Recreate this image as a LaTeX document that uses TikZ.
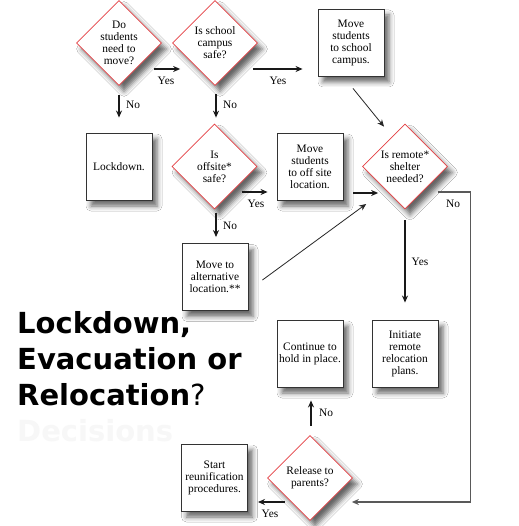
\documentclass[tikz,border=0pt]{standalone}
\usepackage{fontspec}
\setmainfont{Liberation Serif}
\newfontfamily\titlefont{DejaVu Sans}
\usetikzlibrary{shapes.geometric,shadows.blur,arrows.meta}
\definecolor{dred}{RGB}{228,62,66}
\begin{document}
\begin{tikzpicture}[x=1pt,y=-1pt,
  font=\fontsize{11.4}{12}\selectfont,
  shd/.style={blur shadow={shadow xshift=5pt, shadow yshift=-6pt, shadow blur radius=5pt, shadow opacity=60}},
  boxnode/.style={draw=black!80, line width=0.9pt, fill=white, minimum width=66pt, minimum height=67pt, align=center, inner sep=1pt, shd},
  decision/.style={diamond, draw=dred, line width=0.7pt, fill=white, minimum width=85pt, minimum height=85pt, inner sep=0pt, align=center, shd},
  arr/.style={-{Stealth[length=7pt,width=6pt]}, line width=1.3pt, black!90},
  arrgray/.style={-{Stealth[length=7pt,width=6pt]}, line width=1.1pt, black!65},
  thin line/.style={-{Stealth[length=7pt,width=6pt]}, line width=0.8pt, black!85},
  lbl/.style={inner sep=0pt},
  titletext/.style={inner sep=0pt, anchor=base west, font=\titlefont\fontsize{29}{34}\selectfont}
]
\useasboundingbox[fill=white] (0,0) rectangle (518,526);

% decisions
\node[decision] (d1) at (119,43) {Do\\students\\need to\\move?};
\node[decision] (d2) at (215,43) {Is school\\campus\\safe?};
\node[decision] (d3) at (214.5,166.5) {Is\\offsite*\\safe?};
\node[decision] (d4) at (405,166.5) {Is remote*\\shelter\\needed?};
\node[decision] (d5) at (310,478) {Release to\\parents?};

% boxes
\node[boxnode] (b1) at (351,42.5) {Move\\students\\to school\\campus.};
\node[boxnode] (lock) at (119,166.5) {Lockdown.};
\node[boxnode] (b3) at (310,166.5) {Move\\students\\to off site\\location.};
\node[boxnode] (alt) at (215,277) {Move to\\alternative\\location.**};
\node[boxnode] (cont) at (310,353.5) {Continue to\\hold in place.};
\node[boxnode] (init) at (405,353.5) {Initiate\\remote\\relocation\\plans.};
\node[boxnode] (reun) at (214.5,477.5) {Start\\reunification\\procedures.};

% connectors
\draw[arr] ([shift={(-8,26)}]d1.east) -- ([shift={(8,26)}]d2.west);
\draw[arr] ([shift={(-5,26)}]d2.east) -- ([shift={(-15,26.5)}]b1.west);
\draw[thin line] ([shift={(2,12)}]b1.south) -- ([shift={(-21,3)}]d4.north);
\draw[arr] ([shift={(0,9)}]d1.south) -- ([shift={(0,-15)}]lock.north);
\draw[arr] ([shift={(1,8)}]d2.south) -- ([shift={(1.5,-6)}]d3.north);
\draw[arr] ([shift={(-15,25.5)}]d3.east) -- ([shift={(-9,25.5)}]b3.west);
\draw[arr] ([shift={(1.5,4)}]d3.south) -- ([shift={(1,-6)}]alt.north);
\draw[arr] ([shift={(10,26.5)}]b3.east) -- ([shift={(16,26.5)}]d4.west);
\draw[thin line] ([shift={(14,3)}]alt.east) -- ([shift={(4,37.5)}]d4.west);
\draw[arrgray] ([shift={(-10,25.5)}]d4.east) -- ++(33,0) |- ([shift={(-1,24)}]d5.east);
\draw[arr] ([shift={(0,11)}]d4.south) -- ([shift={(0,-17)}]init.north);
\draw[arr] ([shift={(1,-9)}]d5.north) -- ([shift={(1,13)}]cont.south);
\draw[arr] ([shift={(18,24)}]d5.west) -- ([shift={(10,24.5)}]reun.east);

% labels
\node[lbl] (y1) at (166,81) {Yes};
\node[lbl] (y2) at (278,81) {Yes};
\node[lbl] (y3) at (256,204) {Yes};
\node[lbl] (y4) at (420,262) {Yes};
\node[lbl] (y5) at (270,514) {Yes};
\node[lbl] (n1) at (133,105) {No};
\node[lbl] (n2) at (230,105) {No};
\node[lbl] (n3) at (230,226) {No};
\node[lbl] (n4) at (453,204) {No};
\node[lbl] (n5) at (326,413) {No};

% title
\node[titletext] (t1) at (17,333) {\bfseries Lockdown,};
\node[titletext] (t2) at (17,369) {\bfseries Evacuation or};
\node[titletext] (t3) at (17,405) {\textbf{Relocation}?};
\node[titletext, text=black!3] (t4) at (17,441) {\bfseries Decisions};
\end{tikzpicture}
\end{document}
